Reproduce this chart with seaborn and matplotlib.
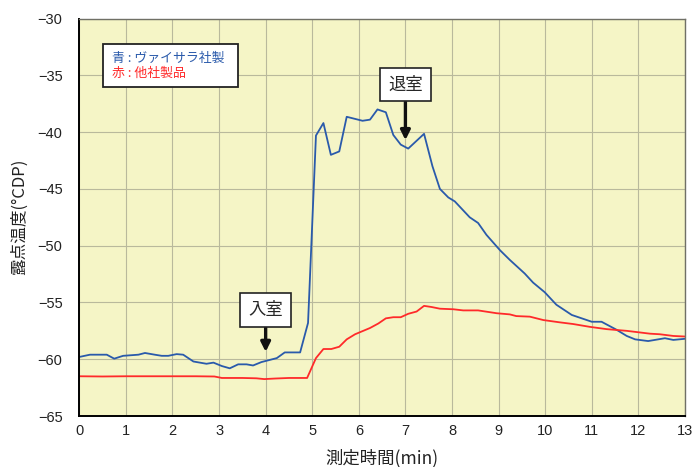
import matplotlib
matplotlib.use("Agg")
import matplotlib.pyplot as plt
import numpy as np
import pandas as pd
import seaborn as sns
from matplotlib.patches import Rectangle

# time (min) and dew point (°CDP)
blue_t = [0.0, 0.23, 0.59, 0.75, 0.94, 1.27, 1.41, 1.62, 1.77, 1.91, 2.09, 2.23,
          2.45, 2.73, 2.88, 3.06, 3.23, 3.41, 3.59, 3.73, 3.91, 4.24, 4.41, 4.74,
          4.91, 5.08, 5.24, 5.40, 5.58, 5.74, 6.08, 6.24, 6.40, 6.58, 6.74, 6.90,
          7.06, 7.40, 7.58, 7.74, 7.92, 8.06, 8.38, 8.56, 8.74, 9.03, 9.24, 9.56,
          9.74, 9.99, 10.24, 10.57, 11.0, 11.21, 11.53, 11.75, 11.93, 12.21, 12.57,
          12.75, 13.0]
blue_y = [-59.8, -59.6, -59.6, -59.95, -59.7, -59.6, -59.45, -59.6, -59.7, -59.7,
          -59.55, -59.6, -60.2, -60.4, -60.3, -60.6, -60.8, -60.45, -60.45, -60.55,
          -60.25, -59.9, -59.4, -59.4, -56.8, -40.3, -39.2, -42.0, -41.7, -38.65,
          -39.0, -38.9, -38.0, -38.25, -40.25, -41.1, -41.45, -40.15, -43.0, -45.0,
          -45.75, -46.1, -47.5, -48.0, -49.05, -50.4, -51.25, -52.45, -53.25, -54.1,
          -55.2, -56.1, -56.7, -56.7, -57.4, -57.95, -58.25, -58.4, -58.15, -58.3,
          -58.2]

red_t = [0.0, 0.5, 1.0, 1.5, 2.0, 2.5, 2.9, 3.06, 3.5, 3.8, 3.97, 4.2, 4.5, 4.89,
         5.08, 5.24, 5.41, 5.58, 5.74, 5.92, 6.24, 6.42, 6.58, 6.74, 6.90, 7.06,
         7.24, 7.40, 7.56, 7.74, 8.03, 8.24, 8.56, 8.96, 9.24, 9.38, 9.67, 9.96,
         10.31, 10.6, 10.96, 11.32, 11.75, 12.25, 12.46, 12.75, 13.0]
red_y = [-61.5, -61.52, -61.5, -61.5, -61.5, -61.5, -61.52, -61.65, -61.65, -61.68,
         -61.75, -61.7, -61.65, -61.65, -59.9, -59.1, -59.1, -58.9, -58.25, -57.8,
         -57.25, -56.85, -56.4, -56.3, -56.3, -56.0, -55.8, -55.3, -55.4, -55.55,
         -55.6, -55.7, -55.7, -55.95, -56.05, -56.2, -56.25, -56.55, -56.75, -56.9,
         -57.15, -57.35, -57.5, -57.75, -57.8, -57.95, -58.0]

x_ticks = list(range(0, 14))
y_ticks = [-65, -60, -55, -50, -45, -40, -35, -30]

blue_label = "青 : ヴァイサラ社製"
red_label = "赤 : 他社製品"

sns.set_style("white")
plt.rcParams["font.family"] = ["Liberation Sans", "Noto Sans CJK JP", "DejaVu Sans"]
jp = ["Noto Sans CJK JP", "DejaVu Sans"]

BLUE = "#2a5aab"
RED = "#ff2a2a"

fig = plt.figure(figsize=(6.93, 4.67), dpi=100)
ax = fig.add_axes([0.1144, 0.1092, 0.874, 0.851])
ax.set_facecolor("#f5f5c6")

sns.lineplot(x=blue_t, y=blue_y, ax=ax, color=BLUE, lw=1.3, sort=False, estimator=None)
sns.lineplot(x=red_t, y=red_y, ax=ax, color=RED, lw=1.3, sort=False, estimator=None)

ax.set_xlim(0, 13)
ax.set_ylim(-65, -30)
ax.set_xticks(x_ticks)
ax.set_yticks(y_ticks)
ax.grid(True, color="#b9b99c", lw=0.8)
ax.set_axisbelow(True)
ax.tick_params(axis="both", length=0, labelsize=10.5, colors="#222222")
ax.tick_params(axis="y", pad=12)
ax.tick_params(axis="x", pad=6)

for s in ["left", "bottom"]:
    ax.spines[s].set_color("black")
    ax.spines[s].set_linewidth(1.4)
for s in ["top", "right"]:
    ax.spines[s].set_color("#707066")
    ax.spines[s].set_linewidth(1.0)

ax.set_xlabel("測定時間(min)", fontsize=12.5, family=jp, color="#222222", labelpad=8)
ax.set_ylabel("露点温度(°CDP)", fontsize=12, family=jp, color="#222222", labelpad=7)

# legend box
ax.add_patch(Rectangle((0.0386, 0.8284), 0.2239, 0.1076, transform=ax.transAxes,
                       facecolor="white", edgecolor="#222222", lw=1.3, zorder=5))
ax.text(0.0535, 0.900, blue_label, transform=ax.transAxes, color=BLUE,
        fontsize=9.3, family=jp, va="center", zorder=6)
ax.text(0.0535, 0.862, red_label, transform=ax.transAxes, color=RED,
        fontsize=9.3, family=jp, va="center", zorder=6)

# annotations
arrow = dict(arrowstyle="-|>", lw=2.4, color="#111111", mutation_scale=14,
             shrinkA=0, shrinkB=0)
box = dict(boxstyle="square,pad=0.45", facecolor="white", edgecolor="#222222", lw=1.2)
ax.annotate("入室", xy=(4.0, -59.35), xytext=(4.0, -55.66), fontsize=12.5,
            family=jp, ha="center", va="center", bbox=box, arrowprops=arrow, zorder=7)
ax.annotate("退室", xy=(7.0, -40.7), xytext=(7.0, -35.8), fontsize=12.5,
            family=jp, ha="center", va="center", bbox=box, arrowprops=arrow, zorder=7)

fig.savefig("out.png", dpi=100, facecolor="white")
